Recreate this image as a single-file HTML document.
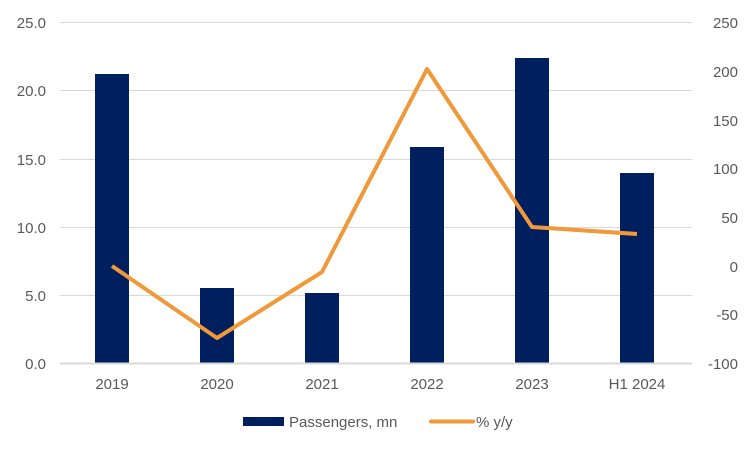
<!DOCTYPE html>
<html><head><meta charset="utf-8"><style>
body{margin:0;background:#fff}
svg text{font-family:"Liberation Sans",Arial,sans-serif;font-size:15px;fill:#595959}
</style></head><body>
<svg width="750" height="450" xmlns="http://www.w3.org/2000/svg">
<g stroke="#d9d9d9" stroke-width="1">
<line x1="60" x2="692" y1="22.5" y2="22.5"/>
<line x1="60" x2="692" y1="90.5" y2="90.5"/>
<line x1="60" x2="692" y1="159.5" y2="159.5"/>
<line x1="60" x2="692" y1="227.5" y2="227.5"/>
<line x1="60" x2="692" y1="295.5" y2="295.5"/>
</g>
<g fill="#001f5f">
<rect x="95" y="74" width="34" height="289"/>
<rect x="200" y="288" width="34" height="75"/>
<rect x="305" y="293" width="34" height="70"/>
<rect x="410" y="147" width="34" height="216"/>
<rect x="515" y="58" width="34" height="305"/>
<rect x="620" y="173" width="34" height="190"/>
</g>
<line x1="60" x2="692" y1="363.5" y2="363.5" stroke="#d9d9d9" stroke-width="2"/>
<polyline points="112,266 217,338 322,272 427,69 532,227 637,234" fill="none" stroke="#f0993a" stroke-width="4" stroke-linejoin="round"/>
<g text-anchor="end">
<text x="46" y="28">25.0</text><text x="46" y="96">20.0</text><text x="46" y="165">15.0</text>
<text x="46" y="233">10.0</text><text x="46" y="301">5.0</text><text x="46" y="369">0.0</text>
</g>
<g text-anchor="end">
<text x="738" y="28">250</text><text x="738" y="77">200</text><text x="738" y="126">150</text>
<text x="738" y="174">100</text><text x="738" y="223">50</text><text x="738" y="272">0</text>
<text x="738" y="320">-50</text><text x="738" y="369">-100</text>
</g>
<g text-anchor="middle">
<text x="112" y="389">2019</text><text x="217" y="389">2020</text><text x="322" y="389">2021</text>
<text x="427" y="389">2022</text><text x="532" y="389">2023</text><text x="637" y="389">H1 2024</text>
</g>
<rect x="243" y="417" width="41" height="9" fill="#001f5f"/>
<text x="289" y="427">Passengers, mn</text>
<line x1="431" x2="473" y1="421.5" y2="421.5" stroke="#f0993a" stroke-width="4" stroke-linecap="round"/>
<text x="476" y="427">% y/y</text>
</svg>
</body></html>
